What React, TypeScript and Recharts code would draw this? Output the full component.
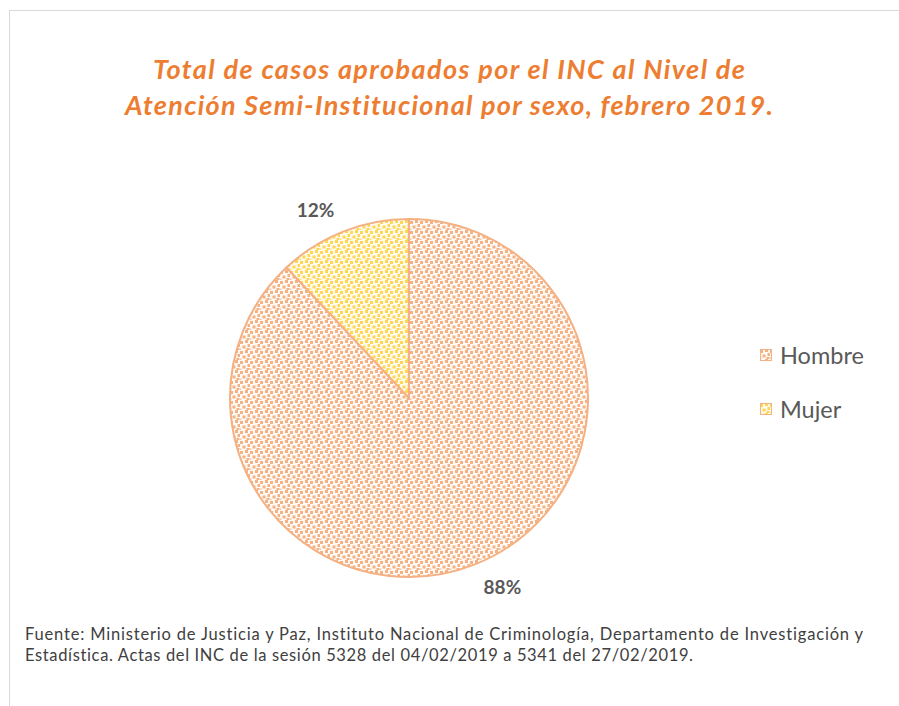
import React from 'react';
import { PieChart, Pie, Cell, Legend } from 'recharts';

// Data
const categories = ['Hombre', 'Mujer'];
const shares = [88, 12];

const titleLines = [
  'Total de casos aprobados por el INC al Nivel de',
  'Atención Semi-Institucional por sexo, febrero 2019.',
];
const sourceLines = [
  'Fuente: Ministerio de Justicia y Paz, Instituto Nacional de Criminología, Departamento de Investigación y',
  'Estadística. Actas del INC de la sesión 5328 del 04/02/2019 a 5341 del 27/02/2019.',
];

const patternIds = ['confettiOrange', 'confettiYellow'];

const data = categories.map((name, i) => ({ name, value: shares[i] }));

const RADIAN = Math.PI / 180;
const FONT = "Lato, 'Open Sans', sans-serif";

// Outside labels: the box corner nearest the pie sits just off the rim
const renderLabel = (props: any) => {
  const { cx, cy, midAngle, outerRadius, percent } = props;
  const r = outerRadius + 15;
  const cos = Math.cos(-midAngle * RADIAN);
  const sin = Math.sin(-midAngle * RADIAN);
  const x = cx + r * cos + (cos >= 0 ? 22 : -22);
  const y = cy + r * sin + (sin >= 0 ? 8 : -8);
  return (
    <text
      x={x}
      y={y}
      textAnchor="middle"
      dominantBaseline="central"
      fill="#595959"
      fontFamily={FONT}
      fontWeight={700}
      fontSize={19}
    >
      {`${Math.round(percent * 100)}%`}
    </text>
  );
};

const renderLegend = (props: any) => {
  const { payload } = props;
  return (
    <div style={{ position: 'relative', width: 130, height: 90 }}>
      {(payload || []).map((entry: any, i: number) => (
        <div
          key={entry.value}
          style={{
            position: 'absolute',
            left: 0,
            top: i * 54,
            height: 24,
            display: 'flex',
            alignItems: 'center',
          }}
        >
          <svg width={12} height={12} style={{ display: 'block' }}>
            <rect
              x={0.5}
              y={0.5}
              width={11}
              height={11}
              fill={`url(#${patternIds[i]})`}
              stroke="#F4B183"
              strokeWidth={1}
            />
          </svg>
          <span
            style={{
              marginLeft: 8,
              fontSize: 23.5,
              lineHeight: '24px',
              color: '#595959',
              fontFamily: FONT,
            }}
          >
            {entry.value}
          </span>
        </div>
      ))}
    </div>
  );
};

function Confetti({ id, color, bg }: { id: string; color: string; bg: string }) {
  return (
    <pattern id={id} width={10} height={10} patternUnits="userSpaceOnUse">
      <rect width={10} height={10} fill={bg} />
      <rect x={0} y={1} width={3} height={3} fill={color} />
      <rect x={5} y={0} width={3} height={3} fill={color} />
      <rect x={2.5} y={5.5} width={3} height={3} fill={color} />
      <rect x={7.5} y={4} width={2.5} height={3} fill={color} />
      <rect x={6.5} y={8} width={3} height={2} fill={color} />
      <rect x={0} y={8.5} width={1.5} height={1.5} fill={color} opacity={0.7} />
    </pattern>
  );
}

export default function App() {
  return (
    <div
      style={{
        position: 'absolute',
        left: 0,
        top: 0,
        width: 899,
        height: 706,
        overflow: 'hidden',
        background: '#ffffff',
      }}
    >
      <div
        style={{
          position: 'absolute',
          left: 9,
          top: 10,
          width: 920,
          height: 720,
          borderLeft: '1px solid #D9D9D9',
          borderTop: '1px solid #D9D9D9',
        }}
      />
      <div style={{ position: 'absolute', left: 0, top: 0 }}>
        <PieChart width={899} height={706} margin={{ top: 0, right: 0, bottom: 0, left: 0 }}>
          <defs>
            <Confetti id="confettiOrange" color="#F4B183" bg="#FFFAF6" />
            <Confetti id="confettiYellow" color="#FFD555" bg="#FFFCEE" />
          </defs>
          <Pie
            data={data}
            dataKey="value"
            nameKey="name"
            cx={409}
            cy={398}
            outerRadius={179}
            startAngle={90}
            endAngle={-270}
            stroke="#F4B183"
            strokeWidth={2}
            label={renderLabel}
            labelLine={false}
            isAnimationActive={false}
          >
            {data.map((d, i) => (
              <Cell key={d.name} fill={`url(#${patternIds[i]})`} />
            ))}
          </Pie>
          <Legend
            layout="horizontal"
            align="right"
            verticalAlign="middle"
            content={renderLegend}
            wrapperStyle={{ left: 760, top: 343, right: 'auto', width: 130 }}
          />
        </PieChart>
      </div>
      <svg
        width={899}
        height={706}
        style={{ position: 'absolute', left: 0, top: 0, pointerEvents: 'none', fontVariantLigatures: 'none' }}
      >
        {titleLines.map((line, i) => (
          <text
            key={line}
            x={449}
            y={79 + i * 36}
            textAnchor="middle"
            fill="#ED7D31"
            fontFamily={FONT}
            fontWeight={700}
            fontStyle="italic"
            fontSize={27}
            textLength={i === 0 ? 592 : 648}
            lengthAdjust="spacing"
          >
            {line}
          </text>
        ))}
        {sourceLines.map((line, i) => (
          <text
            key={line}
            x={25}
            y={640 + i * 21}
            fill="#404040"
            fontFamily={FONT}
            fontSize={16.5}
            textLength={i === 0 ? 838 : 668}
            lengthAdjust="spacing"
          >
            {line}
          </text>
        ))}
      </svg>
    </div>
  );
}
